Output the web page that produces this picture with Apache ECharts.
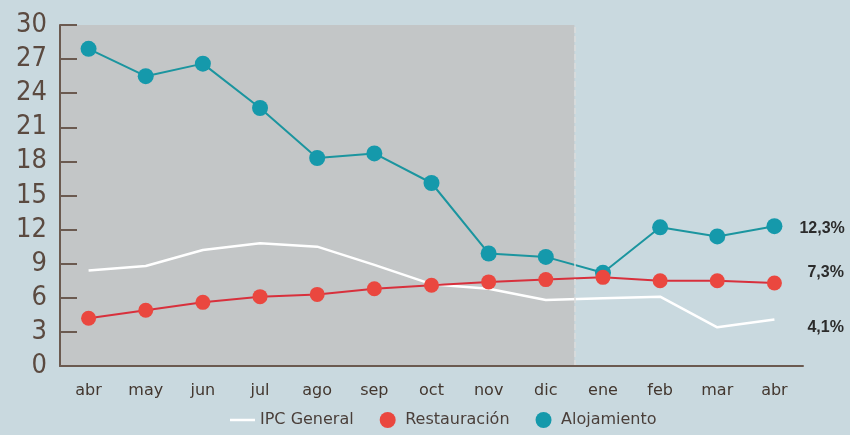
<!DOCTYPE html>
<html><head><meta charset="utf-8">
<script src="https://cdn.jsdelivr.net/npm/echarts@6/dist/echarts.min.js"></script>
<style>html,body{margin:0;padding:0;background:#c9d9df;}#c{width:850px;height:435px;}</style>
</head><body><div id="c"></div>
<script>
const months = ['abr','may','jun','jul','ago','sep','oct','nov','dic','ene','feb','mar','abr'];
const ipcGeneral = [8.4, 8.8, 10.2, 10.8, 10.5, 8.9, 7.2, 6.8, 5.8, 5.95, 6.1, 3.4, 4.1];
const restauracion = [4.2, 4.9, 5.6, 6.1, 6.3, 6.8, 7.1, 7.4, 7.6, 7.8, 7.5, 7.5, 7.3];
const alojamiento = [27.9, 25.5, 26.6, 22.7, 18.3, 18.7, 16.1, 9.9, 9.6, 8.2, 12.2, 11.4, 12.3];
const yTicks = {min: 0, max: 30, interval: 3};
const shadedSpan = [0, 9]; // category band index range: abr..dic

const fmt = v => String(v.toFixed(1)).replace('.', ',') + '%';
const chart = echarts.init(document.getElementById('c'), null, {renderer: 'canvas'});
const endLbl = (dy, dx) => ({
  show: true, distance: 0, offset: [dx, dy],
  formatter: p => fmt(p.value),
  fontFamily: 'Liberation Sans', fontWeight: 'bold', fontSize: 16, color: '#2b2b2b'
});
chart.setOption({
  backgroundColor: '#c9d9df',
  animation: false,
  grid: {left: 60, right: 47, top: 25, bottom: 69},
  legend: {
    bottom: 2, left: 225, itemGap: 26, itemWidth: 25, itemHeight: 16,
    symbolKeepAspect: true,
    textStyle: {fontFamily: 'DejaVu Sans', fontSize: 16, color: '#4a3f3a'},
    data: [
      {name: 'IPC General', icon: 'path://M0,0 L25,0 L25,2.5 L0,2.5 Z'},
      {name: 'Restauración', icon: 'circle'},
      {name: 'Alojamiento', icon: 'circle'}
    ]
  },
  xAxis: [{
    type: 'category', data: months, boundaryGap: true, z: 10,
    axisLine: {lineStyle: {color: '#6b5a50', width: 2}},
    axisTick: {inside: true, length: 6, lineStyle: {color: '#6b5a50', width: 1.5}},
    axisLabel: {fontFamily: 'DejaVu Sans', fontSize: 16, color: '#43372f', margin: 17}
  }, {
    type: 'value', min: 0, max: months.length, show: false
  }],
  yAxis: {
    type: 'value', min: yTicks.min, max: yTicks.max, interval: yTicks.interval, z: 10,
    splitLine: {show: false},
    axisLine: {show: true, lineStyle: {color: '#6b5a50', width: 2}},
    axisTick: {show: true, inside: true, length: 17, lineStyle: {color: '#6b5a50', width: 2}},
    axisLabel: {fontFamily: "'Liberation Sans Narrow', 'DejaVu Sans Condensed', sans-serif", fontSize: 27, color: '#5b4a40', margin: 13}
  },
  series: [
    {
      type: 'line', xAxisIndex: 1, data: [], silent: true, z: 0,
      markArea: {silent: true, itemStyle: {color: '#c3c6c7'},
        data: [[{xAxis: shadedSpan[0]}, {xAxis: shadedSpan[1]}]]},
      markLine: {silent: true, symbol: 'none', label: {show: false},
        lineStyle: {color: '#dcdcdc', type: 'dashed', width: 1.5},
        data: [{xAxis: shadedSpan[1]}]}
    },
    {
      name: 'IPC General', type: 'line', data: ipcGeneral, symbol: 'none',
      lineStyle: {color: '#ffffff', width: 2.5}, itemStyle: {color: '#ffffff'},
      endLabel: endLbl(8, 33), z: 2
    },
    {
      name: 'Alojamiento', type: 'line', data: alojamiento, symbol: 'circle', symbolSize: 16,
      lineStyle: {color: '#1b959f', width: 2}, itemStyle: {color: '#1599ab'},
      endLabel: endLbl(2, 25), z: 3
    },
    {
      name: 'Restauración', type: 'line', data: restauracion, symbol: 'circle', symbolSize: 15,
      lineStyle: {color: '#d8303c', width: 2}, itemStyle: {color: '#ea473f'},
      endLabel: endLbl(-10, 33), z: 4
    }
  ]
});
</script></body></html>
